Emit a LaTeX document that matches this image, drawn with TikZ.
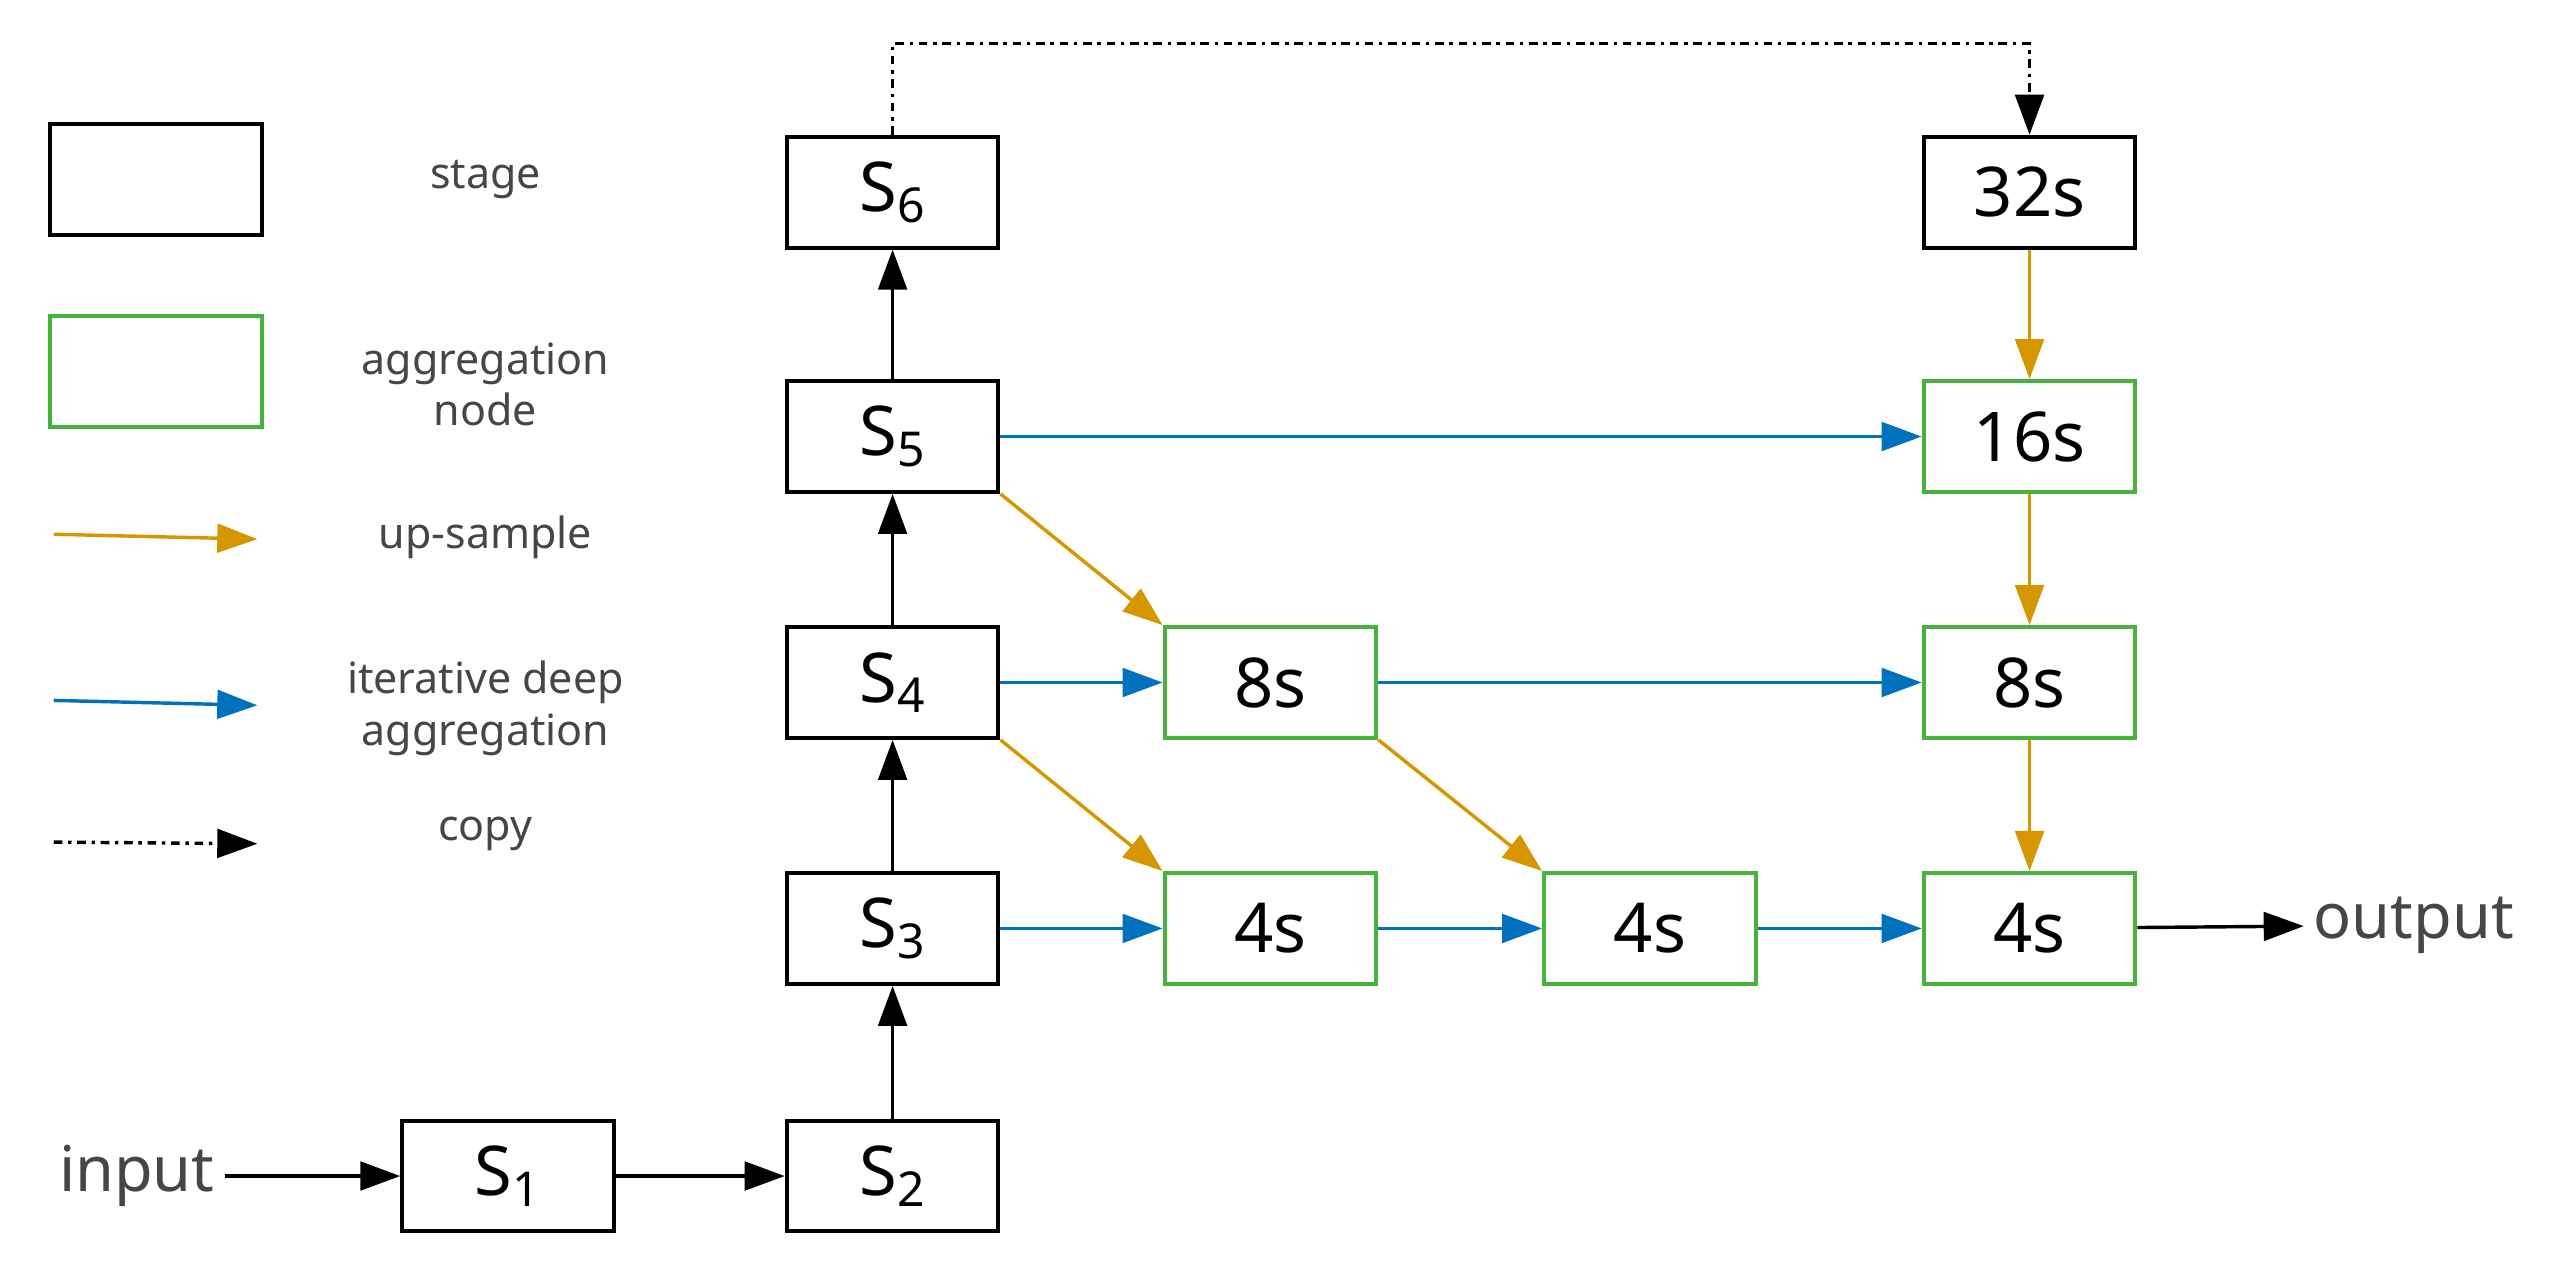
\documentclass[tikz,border=0pt]{standalone}
\usepackage{fontspec}
\setmainfont{Noto Sans}
\usetikzlibrary{arrows.meta}
\definecolor{upc}{RGB}{214,150,0}
\definecolor{idac}{RGB}{0,114,189}
\definecolor{aggc}{RGB}{70,180,60}
\definecolor{txtc}{RGB}{70,70,70}
\tikzset{
  stage/.style={draw=black, line width=1.4pt, minimum width=2.6cm, minimum height=1.36cm, inner sep=0pt, font=\fontsize{24}{24}\selectfont},
  agg/.style={stage, draw=aggc},
  lbl/.style={text=txtc, font=\bfseries\fontsize{15}{18}\selectfont, align=center},
  io/.style={text=txtc, font=\bfseries\fontsize{22}{24}\selectfont},
  arr/.style={-{Triangle[length=14pt,width=10pt]}, line width=1.2pt},
  up/.style={arr, draw=upc, -{Triangle[length=14pt,width=10pt,fill=upc]}},
  ida/.style={arr, draw=idac, -{Triangle[length=14pt,width=10pt,fill=idac]}}
}
\begin{document}
\begin{tikzpicture}
    \useasboundingbox (0,0) rectangle (31.36,-15.7);
        % legend
        \node[stage] (ls) at (1.92, -2.2) {};
        \node[agg] (la) at (1.92, -4.56) {};
        \coordinate (u1) at (0.66, -6.56);
        \coordinate (u2) at (3.16, -6.62);
        \coordinate (b1) at (0.66, -8.6);
        \coordinate (b2) at (3.16, -8.66);
        \coordinate (c1) at (0.66, -10.34);
        \coordinate (c2) at (3.16, -10.36);
        \draw[up] (u1) -- (u2);
        \draw[ida] (b1) -- (b2);
        \draw[arr, dash dot] (c1) -- (c2);
        \node[lbl] (t1) at (5.96, -2.2) {stage};
        \node[lbl] (t2) at (5.96, -4.72) {aggregation\\node};
        \node[lbl] (t3) at (5.96, -6.6) {up-sample};
        \node[lbl] (t4) at (5.96, -8.7) {iterative deep\\aggregation};
        \node[lbl] (t5) at (5.96, -10.24) {copy};

        % stages
        \node[io] (in) at (1.68, -14.44) {input};
        \node[stage] (s1) at (6.24, -14.44) {S\textsubscript{1}};
        \node[stage] (s2) at (10.96, -14.44) {S\textsubscript{2}};
        \node[stage] (s3) at (10.96, -11.4) {S\textsubscript{3}};
        \node[stage] (s4) at (10.96, -8.38) {S\textsubscript{4}};
        \node[stage] (s5) at (10.96, -5.36) {S\textsubscript{5}};
        \node[stage] (s6) at (10.96, -2.36) {S\textsubscript{6}};

        % aggregation
        \node[agg] (a8) at (15.6, -8.38) {8s};
        \node[agg] (a4) at (15.6, -11.4) {4s};
        \node[agg] (b4) at (20.26, -11.4) {4s};
        \node[stage] (c32) at (24.92, -2.36) {32s};
        \node[agg] (c16) at (24.92, -5.36) {16s};
        \node[agg] (c8) at (24.92, -8.38) {8s};
        \node[agg] (c4) at (24.92, -11.4) {4s};
        \node[io] (out) at (29.64, -11.36) {output};

        \draw[arr] (in) -- (s1);
        \draw[arr] (s1) -- (s2);
        \draw[arr] (s2) -- (s3);
        \draw[arr] (s3) -- (s4);
        \draw[arr] (s4) -- (s5);
        \draw[arr] (s5) -- (s6);

        \draw[ida] (s5) -- (c16);
        \draw[ida] (s4) -- (a8);
        \draw[ida] (a8) -- (c8);
        \draw[ida] (s3) -- (a4);
        \draw[ida] (a4) -- (b4);
        \draw[ida] (b4) -- (c4);

        \draw[up] (s5.south east) -- (a8.north west);
        \draw[up] (s4.south east) -- (a4.north west);
        \draw[up] (a8.south east) -- (b4.north west);
        \draw[up] (c32) -- (c16);
        \draw[up] (c16) -- (c8);
        \draw[up] (c8) -- (c4);

        \draw[arr] (c4) -- (out);
        \draw[arr, dash dot] (s6.north) -- ++(0, 1.12) -| (c32.north);
\end{tikzpicture}
\end{document}
